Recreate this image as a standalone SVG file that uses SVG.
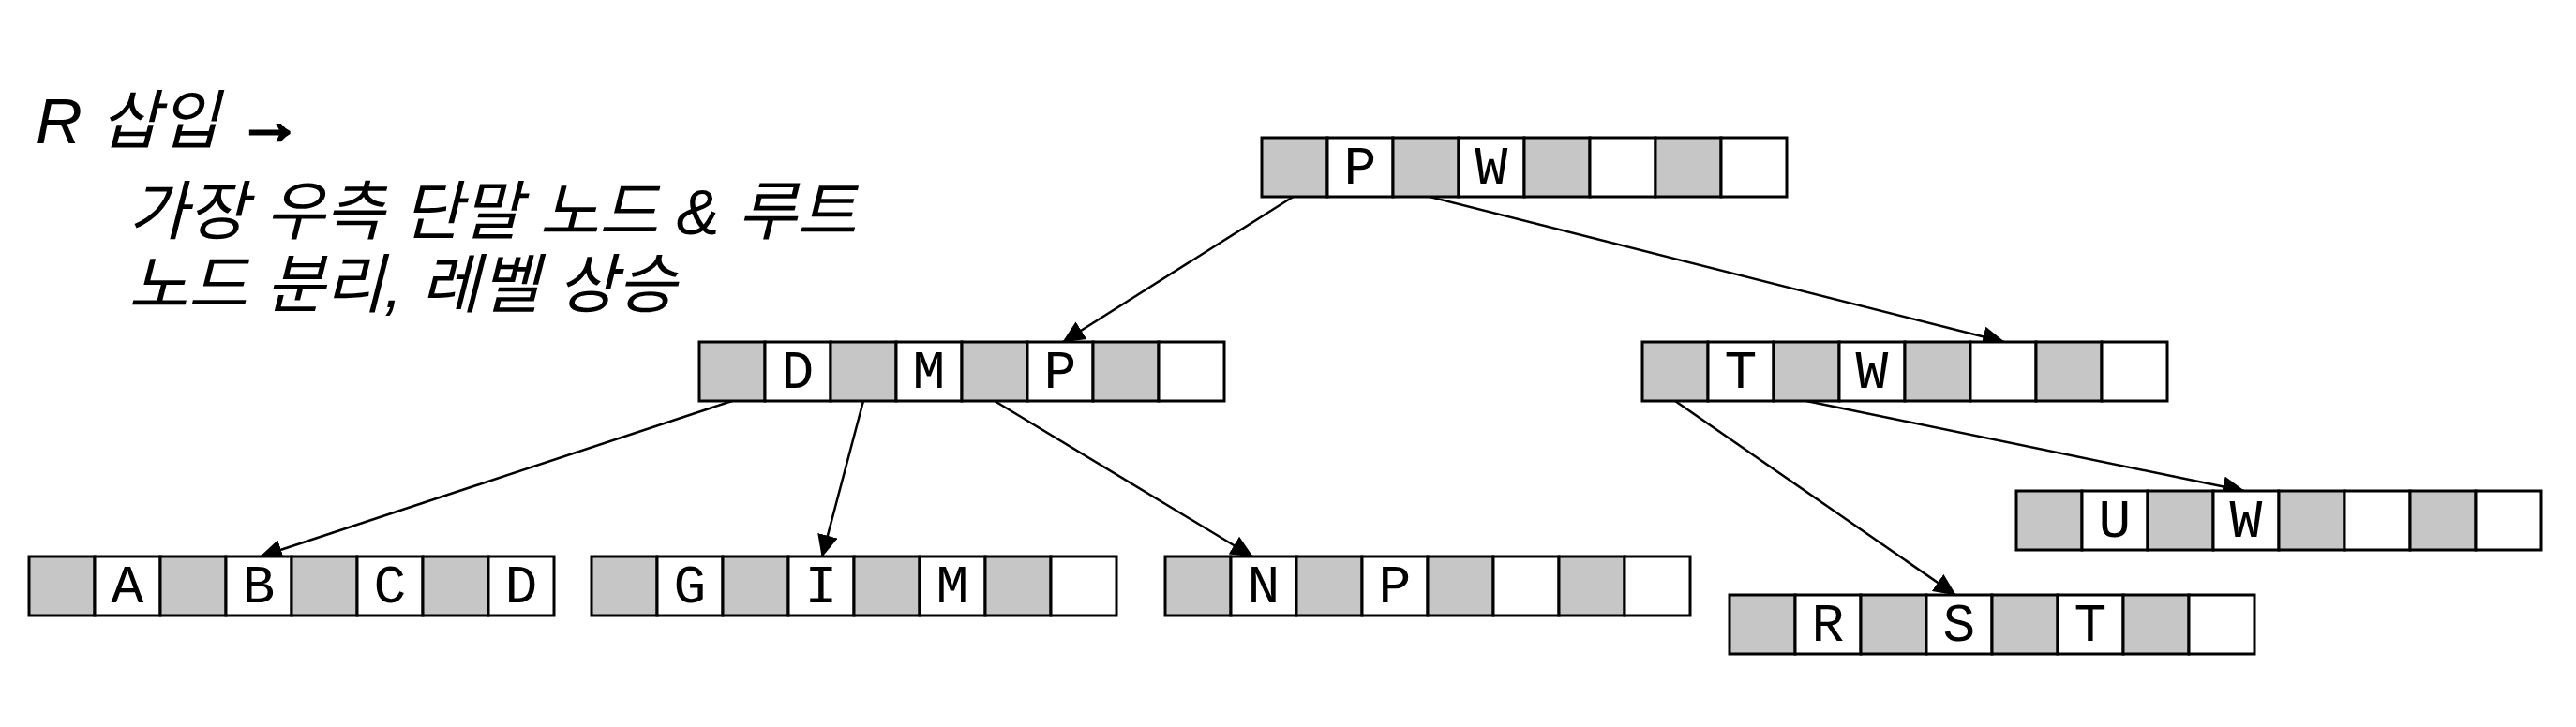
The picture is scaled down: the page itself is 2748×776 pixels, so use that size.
<svg xmlns="http://www.w3.org/2000/svg" xmlns:xlink="http://www.w3.org/1999/xlink" width="2748" height="776" viewBox="0 0 2748 776">
<style>
.g{fill:#c6c6c6;stroke:#000;stroke-width:3}
.w{fill:#fff;stroke:#000;stroke-width:3}
.k{font-family:"Liberation Mono","DejaVu Sans Mono",monospace;font-size:58px;text-anchor:middle;fill:#000}
.h{font-family:"Liberation Sans","Noto Sans CJK KR",sans-serif;font-style:italic;font-size:69px;fill:#000}
.b{font-weight:bold;stroke:#000;stroke-width:3}
.c{stroke:#000;stroke-width:2.5;fill:none;marker-end:url(#ah)}
</style>
<defs>
<marker id="ah" markerUnits="userSpaceOnUse" markerWidth="24" markerHeight="22" viewBox="0 0 24 22" refX="23" refY="11" orient="auto">
<path d="M0,0 L24,11 L0,22 z" fill="#000"/>
</marker>
<g id="row">
<rect class="g" x="0" y="0" width="70" height="63"/>
<rect class="w" x="70" y="0" width="70" height="63"/>
<rect class="g" x="140" y="0" width="70" height="63"/>
<rect class="w" x="210" y="0" width="70" height="63"/>
<rect class="g" x="280" y="0" width="70" height="63"/>
<rect class="w" x="350" y="0" width="70" height="63"/>
<rect class="g" x="420" y="0" width="70" height="63"/>
<rect class="w" x="490" y="0" width="70" height="63"/>
</g>
</defs>
<rect width="2748" height="776" fill="#fff"/>
<g id="caption">
<text class="h" x="38" y="153">R 삽입 <tspan class="b">→</tspan></text>
<text class="h" x="137" y="250">가장 우측 단말 노드 &amp; 루트</text>
<text class="h" x="137" y="328">노드 분리, 레벨 상승</text>
</g>
<g id="connectors">
<line class="c" x1="1381" y1="209" x2="1134" y2="365"/>
<line class="c" x1="1521" y1="209" x2="2138" y2="365"/>
<line class="c" x1="781" y1="428" x2="278" y2="594"/>
<line class="c" x1="921" y1="428" x2="877" y2="594"/>
<line class="c" x1="1061" y1="428" x2="1336" y2="594"/>
<line class="c" x1="1787" y1="428" x2="2086" y2="635"/>
<line class="c" x1="1927" y1="428" x2="2394" y2="524"/>
</g>
<g id="root" transform="translate(1346,147)">
<use xlink:href="#row" href="#row"/>
<text class="k" x="105" y="49">P</text><text class="k" x="245" y="49">W</text>
</g>
<g id="node-DMP" transform="translate(746,365)">
<use xlink:href="#row" href="#row"/>
<text class="k" x="105" y="49">D</text><text class="k" x="245" y="49">M</text><text class="k" x="385" y="49">P</text>
</g>
<g id="node-TW" transform="translate(1752,365)">
<use xlink:href="#row" href="#row"/>
<text class="k" x="105" y="49">T</text><text class="k" x="245" y="49">W</text>
</g>
<g id="leaf-ABCD" transform="translate(31,594)">
<use xlink:href="#row" href="#row"/>
<text class="k" x="105" y="49">A</text><text class="k" x="245" y="49">B</text><text class="k" x="385" y="49">C</text><text class="k" x="525" y="49">D</text>
</g>
<g id="leaf-GIM" transform="translate(631,594)">
<use xlink:href="#row" href="#row"/>
<text class="k" x="105" y="49">G</text><text class="k" x="245" y="49">I</text><text class="k" x="385" y="49">M</text>
</g>
<g id="leaf-NP" transform="translate(1243,594)">
<use xlink:href="#row" href="#row"/>
<text class="k" x="105" y="49">N</text><text class="k" x="245" y="49">P</text>
</g>
<g id="leaf-UW" transform="translate(2151,524)">
<use xlink:href="#row" href="#row"/>
<text class="k" x="105" y="49">U</text><text class="k" x="245" y="49">W</text>
</g>
<g id="leaf-RST" transform="translate(1845,635)">
<use xlink:href="#row" href="#row"/>
<text class="k" x="105" y="49">R</text><text class="k" x="245" y="49">S</text><text class="k" x="385" y="49">T</text>
</g>
</svg>
